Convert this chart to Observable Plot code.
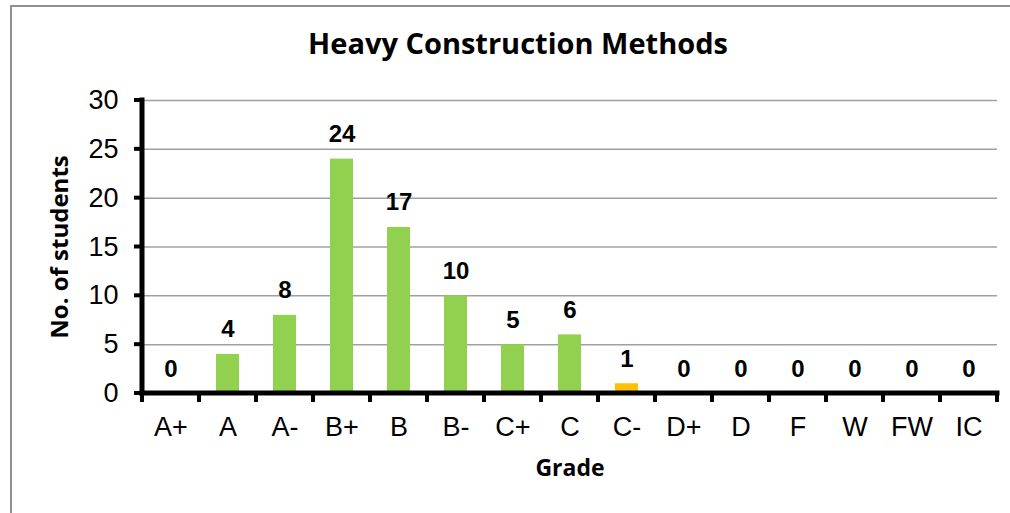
<!DOCTYPE html>
<html>
<head>
<meta charset="utf-8">
<script src="https://cdn.jsdelivr.net/npm/d3@7"></script>
<script src="https://cdn.jsdelivr.net/npm/@observablehq/plot@0.6"></script>
<style>
  html, body { margin: 0; padding: 0; background: #fff; }
  #wrap { position: relative; width: 1010px; height: 513px; overflow: hidden; }
  #border { position: absolute; left: 10px; top: 5px; width: 1100px; height: 600px; border: 2px solid #8f8f8f; box-sizing: border-box; }
  #chart { position: absolute; left: 0; top: 0; }
</style>
</head>
<body>
<div id="wrap"><div id="border"></div><div id="chart"></div></div>
<script>
const title = "Heavy Construction Methods";
const grades = ["A+", "A", "A-", "B+", "B", "B-", "C+", "C", "C-", "D+", "D", "F", "W", "FW", "IC"];
const counts = [0, 4, 8, 24, 17, 10, 5, 6, 1, 0, 0, 0, 0, 0, 0];
const yTicks = [0, 5, 10, 15, 20, 25, 30];
const highlightGrade = "C-";
const xLabel = "Grade";
const yLabel = "No. of students";

const data = grades.map((g, i) => ({grade: g, count: counts[i]}));
const GREEN = "#92d050", ORANGE = "#ffc000";

const plot = Plot.plot({
  width: 1010,
  height: 513,
  marginLeft: 142,
  marginRight: 13,
  marginTop: 100,
  marginBottom: 120,
  style: {fontFamily: "Liberation Sans, Arial, sans-serif", color: "#000", background: "transparent", overflow: "visible"},
  x: {domain: grades, paddingInner: 0.6, paddingOuter: 0.3},
  y: {domain: [0, 30]},
  marks: [
    Plot.ruleY(yTicks.filter(d => d > 0), {stroke: "#a0a0a0", strokeWidth: 1.5}),
    Plot.barY(data, {x: "grade", y: "count", fill: d => d.grade === highlightGrade ? ORANGE : GREEN}),
    Plot.text(data, {x: "grade", y: "count", text: d => String(d.count), lineAnchor: "bottom", dy: -17, fontSize: 24, fontWeight: "bold", fill: "#000"}),
    Plot.axisY({ticks: yTicks, tickSize: 0, tickPadding: 24, fontSize: 27, label: null, tickFormat: d => String(d)}),
    Plot.axisX({tickSize: 0, tickPadding: 23, fontSize: 27, label: null}),
    Plot.text([title], {frameAnchor: "top", lineAnchor: "middle", dx: -52, dy: -56, fontSize: 29, fontWeight: "bold", fontFamily: "Open Sans", fill: "#000"}),
    Plot.text([xLabel], {frameAnchor: "bottom", lineAnchor: "middle", dy: 75, fontSize: 23, fontWeight: "bold", fontFamily: "Open Sans", fill: "#000"}),
    Plot.text([yLabel], {frameAnchor: "left", textAnchor: "middle", dx: -82, rotate: -90, fontSize: 24, fontWeight: "bold", fontFamily: "Open Sans", fill: "#000"})
  ]
});

// Axis lines and ticks drawn with the plot's own scales
const xs = plot.scale("x"), ys = plot.scale("y");
const step = xs.step, bw = xs.bandwidth;
const y0 = ys.apply(0), yTop = ys.apply(30);
const boundaries = grades.map(g => xs.apply(g) + bw / 2 - step / 2);
boundaries.push(boundaries[boundaries.length - 1] + step);
const left = boundaries[0], right = boundaries[boundaries.length - 1];
const svg = d3.select(plot);
const g = svg.append("g").attr("stroke", "#000").attr("stroke-linecap", "square");
g.append("line").attr("x1", left).attr("x2", left).attr("y1", yTop).attr("y2", y0).attr("stroke-width", 5);
g.append("line").attr("x1", left).attr("x2", right).attr("y1", y0).attr("y2", y0).attr("stroke-width", 5);
yTicks.forEach(v => {
  g.append("line").attr("x1", left - 6).attr("x2", left).attr("y1", ys.apply(v)).attr("y2", ys.apply(v)).attr("stroke-width", 4);
});
boundaries.forEach(bx => {
  g.append("line").attr("x1", bx).attr("x2", bx).attr("y1", y0).attr("y2", y0 + 7).attr("stroke-width", 4);
});

document.getElementById("chart").appendChild(plot);
</script>
</body>
</html>
